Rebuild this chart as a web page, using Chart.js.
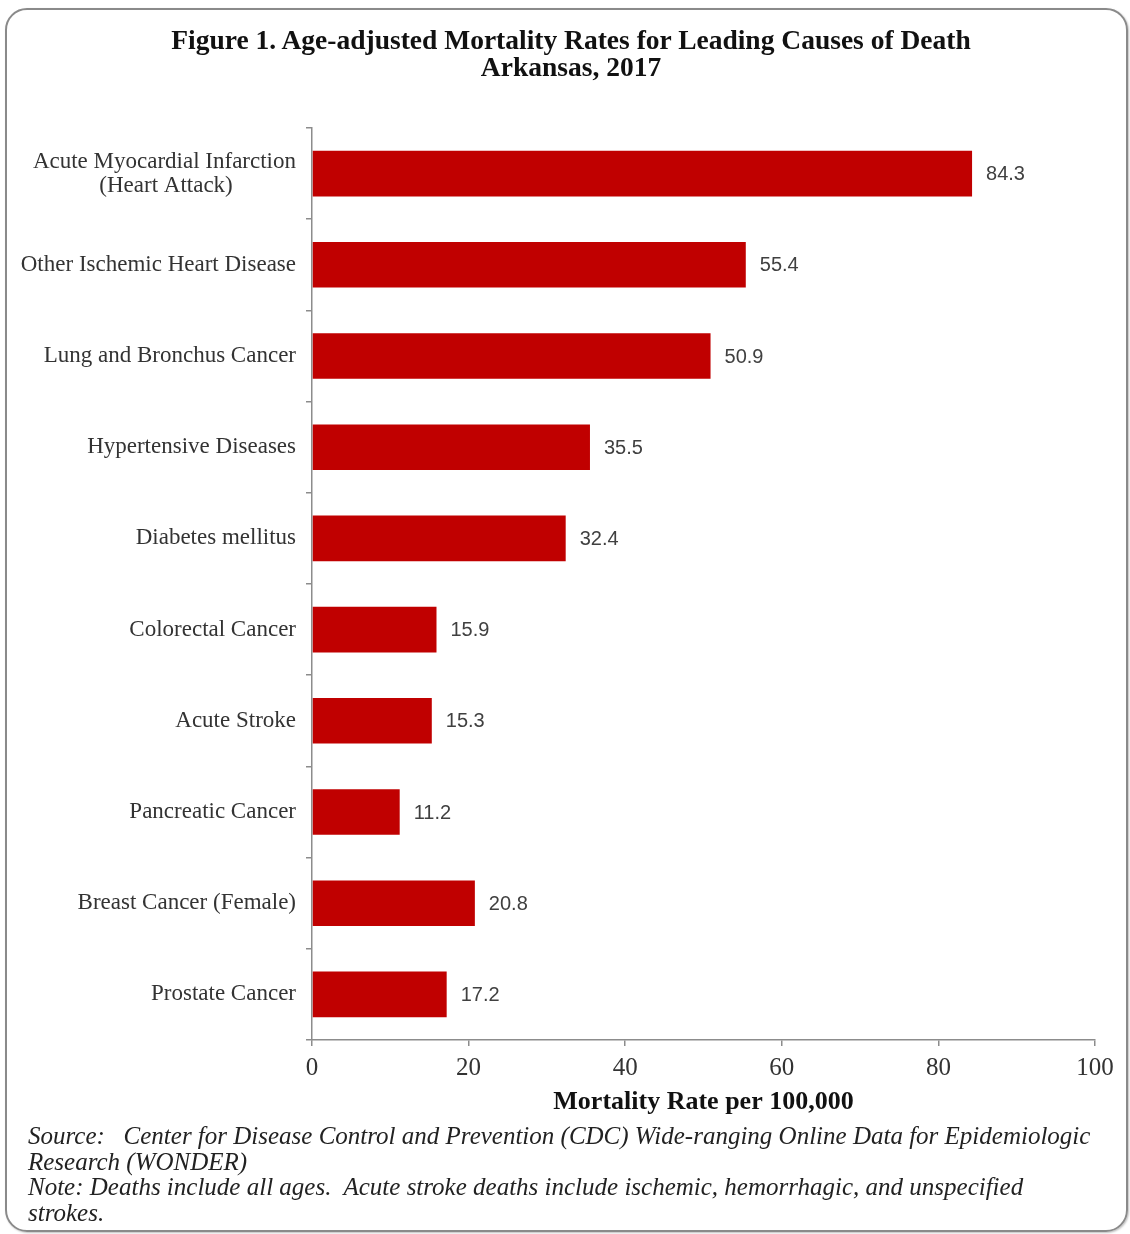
<!DOCTYPE html>
<html>
<head>
<meta charset="utf-8">
<script src="https://cdn.jsdelivr.net/npm/chart.js@4.4.1/dist/chart.umd.min.js"></script>
<style>
  html, body { margin: 0; padding: 0; background: #fff; }
  #page { position: relative; width: 1130px; height: 1234px; overflow: hidden; }
  #frame {
    position: absolute; left: 5px; top: 8px; width: 1119px; height: 1220px;
    border: 2px solid #8a8a8a; border-radius: 22px;
    box-shadow: 1px 1px 2px rgba(0,0,0,0.25);
  }
  #chart { position: absolute; left: 0; top: 0; }
  #title {
    position: absolute; left: 0; top: 26px; width: 1142px; text-align: center;
    font-family: "Liberation Serif", serif; font-weight: bold; font-size: 27.5px;
    line-height: 27px; color: #111;
  }
  #notes {
    position: absolute; left: 28px; top: 1123px; width: 1095px;
    font-family: "Liberation Serif", serif; font-style: italic; font-size: 25px;
    line-height: 25.5px; color: #222; white-space: pre;
  }
</style>
</head>
<body>
<div id="page">
  <div id="frame"></div>
  <canvas id="chart" width="1130" height="1125"></canvas>
  <div id="title"></div>
  <div id="notes">Source:   Center for Disease Control and Prevention (CDC) Wide-ranging Online Data for Epidemiologic
Research (WONDER)
Note: Deaths include all ages.  Acute stroke deaths include ischemic, hemorrhagic, and unspecified
strokes.</div>
</div>
<script>
const causes = [
    ['Acute Myocardial Infarction', '(Heart Attack)           '],
    'Other Ischemic Heart Disease',
    'Lung and Bronchus Cancer',
    'Hypertensive Diseases',
    'Diabetes mellitus',
    'Colorectal Cancer',
    'Acute Stroke',
    'Pancreatic Cancer',
    'Breast Cancer (Female)',
    'Prostate Cancer'
]
const rates = [84.3, 55.4, 50.9, 35.5, 32.4, 15.9, 15.3, 11.2, 20.8, 17.2]
const rateTicks = [0, 20, 40, 60, 80, 100]

const titleLines = ['Figure 1. Age-adjusted Mortality Rates for Leading Causes of Death', 'Arkansas, 2017']
const xTitle = 'Mortality Rate per 100,000'

document.getElementById('title').innerHTML = titleLines.join('<br>')

const axisGray = '#8c8c8c'
const serif = '"Liberation Serif", "Times New Roman", serif'

// numbers printed just past the end of each bar
const valueLabels = {
    id: 'valueLabels',
    afterDatasetsDraw(chart) {
        const ctx = chart.ctx
        const meta = chart.getDatasetMeta(0)
        ctx.save()
        ctx.font = '20px "Liberation Sans", Arial, sans-serif'
        ctx.fillStyle = '#404040'
        ctx.textAlign = 'left'
        ctx.textBaseline = 'middle'
        meta.data.forEach((bar, i) => {
            ctx.fillText(rates[i].toFixed(1), bar.x + 14, bar.y + 1)
        })
        ctx.restore()
    }
}

const ctx = document.getElementById('chart')
new Chart(ctx, {
    type: 'bar',
    data: {
        labels: causes,
        datasets: [{
            data: rates,
            backgroundColor: '#c00000',
            borderWidth: 0,
            barPercentage: 0.5,
            categoryPercentage: 1
        }]
    },
    options: {
        indexAxis: 'y',
        responsive: false,
        animation: false,
        devicePixelRatio: 1,
        layout: { padding: { left: 0, right: 35, top: 128, bottom: 5 } },
        plugins: {
            legend: { display: false },
            tooltip: { enabled: false },
            title: { display: false }
        },
        scales: {
            x: {
                min: 0,
                max: 100,
                afterBuildTicks: s => { s.ticks = rateTicks.map(v => ({ value: v })) },
                afterFit: s => { s.height = 80 },
                border: { display: true, color: axisGray, width: 1.5 },
                grid: { drawOnChartArea: false, drawTicks: true, tickLength: 6, color: axisGray, lineWidth: 1.5 },
                ticks: {
                    color: '#333',
                    padding: 7,
                    font: { family: serif, size: 25 }
                },
                title: {
                    display: true,
                    text: xTitle,
                    color: '#111',
                    font: { family: serif, size: 26, weight: 'bold', lineHeight: 1 },
                    padding: { top: 0, bottom: 5 }
                }
            },
            y: {
                afterFit: s => { s.width = 312 },
                border: { display: true, color: axisGray, width: 1.5 },
                grid: { drawOnChartArea: false, drawTicks: true, tickLength: 6, color: axisGray, lineWidth: 1.5 },
                ticks: {
                    color: '#333',
                    padding: 10,
                    autoSkip: false,
                    font: { family: serif, size: 23, lineHeight: 1.04 }
                }
            }
        }
    },
    plugins: [valueLabels]
})
</script>
</body>
</html>
